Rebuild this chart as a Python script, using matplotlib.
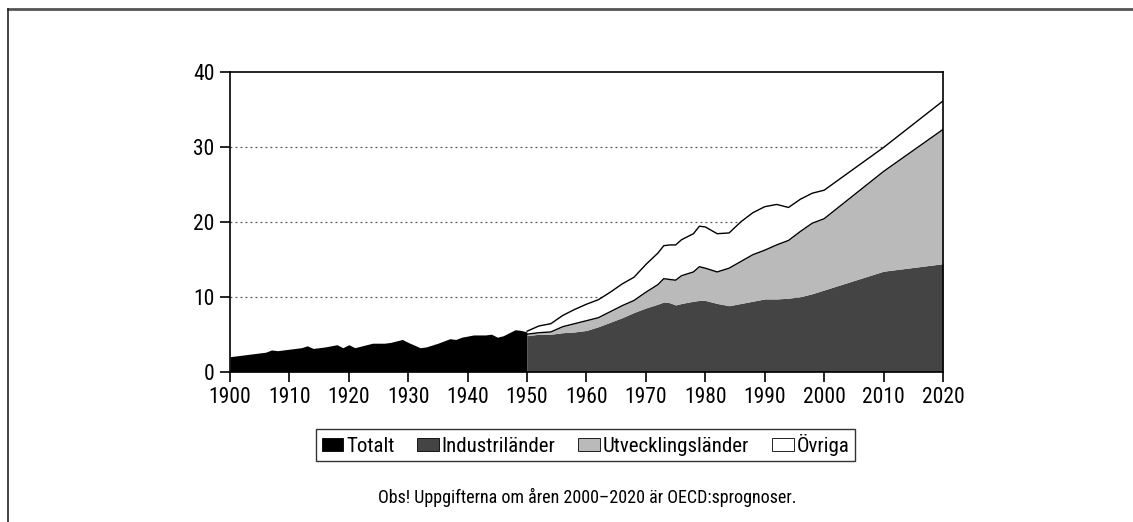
import matplotlib
matplotlib.use("Agg")
import matplotlib.pyplot as plt
from matplotlib import font_manager as fm
from matplotlib.patches import Patch
from matplotlib.lines import Line2D
import numpy as np

# pick a condensed sans family if one is installed
_entries = fm.fontManager.ttflist
_names = {f.name for f in _entries}
_family = 'DejaVu Sans'
_stretch = 'normal'
for cand in ['Liberation Sans Narrow', 'Roboto Condensed', 'Open Sans Condensed',
             'Noto Sans Condensed', 'Arial Narrow']:
    if cand in _names:
        _family = cand
        break
else:
    for cand in ['Roboto', 'Open Sans', 'Noto Sans', 'DejaVu Sans']:
        if any(f.name == cand and f.stretch in ('condensed', 'semi-condensed', 'extra-condensed', 75, 87.5)
               for f in _entries):
            _family = cand
            _stretch = 'condensed'
            break
plt.rcParams['font.family'] = [_family, 'DejaVu Sans']
plt.rcParams['font.stretch'] = _stretch

# ---- data ----
years_tot = [1900, 1902, 1904, 1906, 1907, 1908, 1910, 1912, 1913, 1914, 1916, 1918,
             1919, 1920, 1921, 1922, 1924, 1926, 1927, 1928, 1929, 1930, 1932, 1933,
             1935, 1937, 1938, 1939, 1941, 1943, 1944, 1945, 1946, 1947, 1948, 1949, 1950]
totalt = [2.0, 2.2, 2.4, 2.6, 2.9, 2.8, 3.0, 3.2, 3.45, 3.1, 3.3, 3.6,
          3.2, 3.6, 3.2, 3.4, 3.8, 3.8, 3.9, 4.1, 4.3, 3.9, 3.2, 3.3,
          3.8, 4.4, 4.3, 4.6, 4.9, 4.9, 5.0, 4.6, 4.8, 5.2, 5.6, 5.5, 5.3]

years = [1950, 1952, 1954, 1956, 1958, 1960, 1962, 1964, 1966, 1968, 1970, 1972,
         1973, 1974, 1975, 1976, 1978, 1979, 1980, 1982, 1984, 1986, 1988, 1990,
         1992, 1994, 1996, 1998, 2000, 2010, 2020]
industri = [4.8, 5.0, 5.0, 5.2, 5.3, 5.5, 6.0, 6.6, 7.2, 7.9, 8.5, 9.0,
            9.3, 9.2, 8.9, 9.1, 9.4, 9.5, 9.5, 9.1, 8.8, 9.1, 9.4, 9.7,
            9.7, 9.8, 10.0, 10.4, 10.9, 13.4, 14.4]
utveckling = [0.2, 0.2, 0.3, 0.8, 1.1, 1.3, 1.2, 1.4, 1.6, 1.6, 2.1, 2.6,
              3.1, 3.1, 3.3, 3.7, 3.9, 4.5, 4.3, 4.2, 5.0, 5.6, 6.2, 6.5,
              7.2, 7.7, 8.7, 9.4, 9.5, 13.3, 17.9]
ovriga = [0.4, 0.9, 1.1, 1.5, 1.9, 2.2, 2.4, 2.6, 2.9, 3.1, 3.7, 4.2,
          4.4, 4.6, 4.7, 4.8, 5.1, 5.4, 5.5, 5.1, 4.7, 5.3, 5.6, 5.8,
          5.4, 4.4, 4.3, 4.0, 3.8, 3.2, 3.8]

legend_labels = ['Totalt', 'Industriländer', 'Utvecklingsländer', 'Övriga']
note = 'Obs! Uppgifterna om åren 2000–2020 är OECD:sprognoser.'
xticks = list(range(1900, 2021, 10))
yticks = [0, 10, 20, 30, 40]

c_tot = '#000000'
c_ind = '#444444'
c_utv = '#bababa'
c_ovr = '#ffffff'

# ---- figure ----
fig = plt.figure(figsize=(11.33, 5.22), dpi=100)
ax = fig.add_axes([230/1133, 150.3/522, (943-230)/1133, 300/522])

y = np.array(years)
ind = np.array(industri)
utv_top = ind + np.array(utveckling)
tot_top = utv_top + np.array(ovriga)

ax.fill_between(years_tot, 0, totalt, color=c_tot, lw=0, zorder=2)
ax.fill_between(y, 0, ind, color=c_ind, lw=0, zorder=2)
ax.fill_between(y, ind, utv_top, color=c_utv, lw=0, zorder=2)
ax.fill_between(y, utv_top, tot_top, color=c_ovr, lw=0, zorder=2)
ax.plot(y, utv_top, color='black', lw=1.0, zorder=3)
ax.plot(y, tot_top, color='black', lw=1.0, zorder=3)

ax.set_xlim(1900, 2020)
ax.set_ylim(0, 40)
ax.set_xticks(xticks)
ax.set_yticks(yticks)
ax.tick_params(axis='both', direction='out', length=7, width=1.2, labelsize=15.5, pad=4)
for s in ax.spines.values():
    s.set_linewidth(1.2)
for v in [10, 20, 30]:
    ax.axhline(v, color='#555555', lw=0.9, ls=(0, (1.5, 2.5)), zorder=1)

handles = [Patch(facecolor=c_tot, edgecolor='black', lw=0.6),
           Patch(facecolor=c_ind, edgecolor='black', lw=0.6),
           Patch(facecolor=c_utv, edgecolor='black', lw=0.6),
           Patch(facecolor=c_ovr, edgecolor='black', lw=0.6)]
leg = fig.legend(handles, legend_labels, loc='center', bbox_to_anchor=(585.5/1133, 77/522),
                 ncol=4, fontsize=15, frameon=True, fancybox=False, edgecolor='black',
                 handlelength=1.05, handleheight=0.6, handletextpad=0.12, columnspacing=1.1,
                 borderpad=0.25)
leg.get_frame().set_linewidth(1.0)

fig.text(587/1133, 25/522, note, ha='center', va='center', fontsize=13)

# outer frame of the figure box
fig.add_artist(Line2D([8/1133, 1.0], [1 - 9/522, 1 - 9/522], color='#555555', lw=2.0,
                      transform=fig.transFigure))
fig.add_artist(Line2D([8/1133, 8/1133], [1 - 9/522, 0], color='#222222', lw=1.2,
                      transform=fig.transFigure))

fig.savefig('out.png', dpi=100)
